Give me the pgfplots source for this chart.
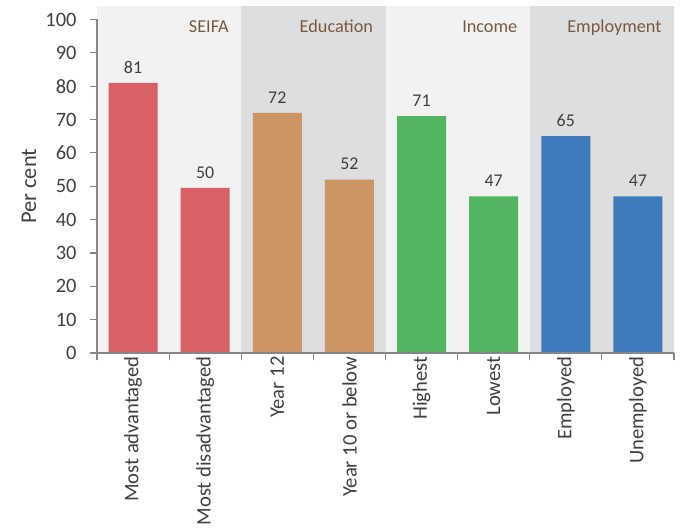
\documentclass[border=0pt]{standalone}
\usepackage{fontspec}
\setmainfont{Carlito}
\usepackage{pgfplots}
\pgfplotsset{compat=1.18}
\definecolor{cRed}{RGB}{217,96,102}
\definecolor{cTan}{RGB}{205,148,102}
\definecolor{cGreen}{RGB}{82,181,96}
\definecolor{cBlue}{RGB}{62,123,186}
\definecolor{pLight}{RGB}{242,242,242}
\definecolor{pDark}{RGB}{221,222,224}
\definecolor{axgray}{RGB}{134,134,134}
\definecolor{txt}{RGB}{64,64,64}
\definecolor{brown}{RGB}{122,88,62}
\begin{document}
\begin{tikzpicture}
\begin{axis}[
  set layers, axis on top,
  scale only axis, width=577bp, height=333.5bp,
  xmin=-0.5, xmax=7.5, ymin=0, ymax=100,
  clip=false,
  axis x line*=bottom, axis y line*=left,
  axis line style={draw=axgray, line width=1.6bp},
  tick align=outside,
  tick style={draw=axgray, line width=1.2bp},
  major tick length=7bp,
  ytick={0,10,20,30,40,50,60,70,80,90,100},
  yticklabel style={font=\fontsize{20.5}{24}\selectfont, color=txt, xshift=-10bp},
  /pgf/number format/assume math mode=true,
  xtick={-0.5,0.5,1.5,2.5,3.5,4.5,5.5,6.5,7.5},
  xticklabels={},
  extra x ticks={0,1,2,3,4,5,6,7},
  extra x tick labels={Most advantaged,Most disadvantaged,Year 12,Year 10 or below,Highest,Lowest,Employed,Unemployed},
  extra x tick style={major tick length=0pt, tick label style={rotate=90, anchor=east, font=\fontsize{20.7}{24}\selectfont, color=txt}},
  ylabel={Per cent},
  ylabel style={at={(axis description cs:-0.1057,0.5)}, anchor=base, font=\fontsize{22.5}{26}\selectfont, color=txt},
  ybar, bar width=49bp,
  nodes near coords, point meta=explicit symbolic,
  nodes near coords style={font=\fontsize{18}{20}\selectfont, color=txt, yshift=6bp},
]
\begin{pgfonlayer}{axis background}
\fill[pLight] (axis cs:-0.5,0) rectangle (axis cs:1.5,104);
\fill[pDark] (axis cs:1.5,0) rectangle (axis cs:3.5,104);
\fill[pLight] (axis cs:3.5,0) rectangle (axis cs:5.5,104);
\fill[pDark] (axis cs:5.5,0) rectangle (axis cs:7.5,104);
\end{pgfonlayer}
\addplot[fill=cRed, draw=none, bar shift=0pt] coordinates {(0,81)[81] (1,49.5)[50]};
\addplot[fill=cTan, draw=none, bar shift=0pt] coordinates {(2,72)[72] (3,52)[52]};
\addplot[fill=cGreen, draw=none, bar shift=0pt] coordinates {(4,71)[71] (5,47)[47]};
\addplot[fill=cBlue, draw=none, bar shift=0pt] coordinates {(6,65)[65] (7,47)[47]};
\node[anchor=base east, font=\fontsize{18.3}{20}\selectfont, color=brown] at ([xshift=-9bp,yshift=-26bp]axis cs:1.5,104) {SEIFA};
\node[anchor=base east, font=\fontsize{18.3}{20}\selectfont, color=brown] at ([xshift=-9bp,yshift=-26bp]axis cs:3.5,104) {Education};
\node[anchor=base east, font=\fontsize{18.3}{20}\selectfont, color=brown] at ([xshift=-9bp,yshift=-26bp]axis cs:5.5,104) {Income};
\node[anchor=base east, font=\fontsize{18.3}{20}\selectfont, color=brown] at ([xshift=-9bp,yshift=-26bp]axis cs:7.5,104) {Employment};
\end{axis}
\pgfresetboundingbox
\useasboundingbox (-97bp,-177bp) rectangle (585bp,353bp);
\end{tikzpicture}
\end{document}
